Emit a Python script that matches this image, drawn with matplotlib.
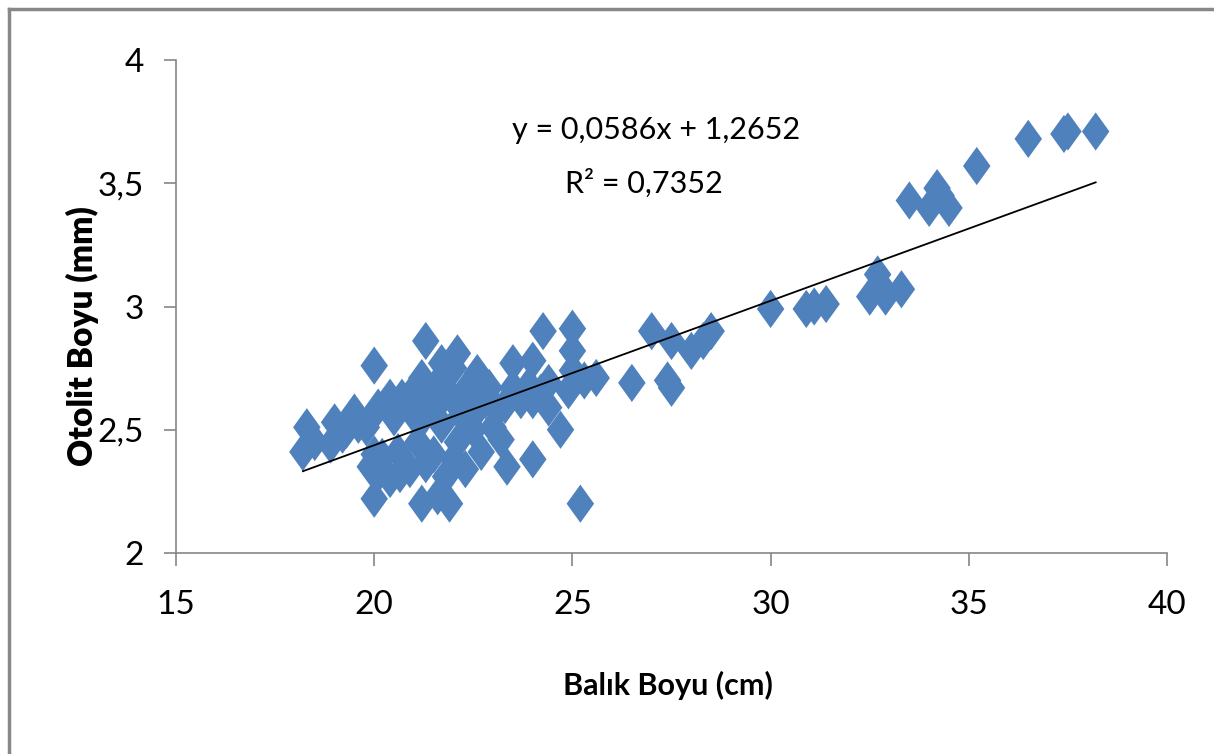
import numpy as np
import matplotlib
matplotlib.use("Agg")
import matplotlib.pyplot as plt
from matplotlib.path import Path
from matplotlib.lines import Line2D

# Balik boyu (cm) / otolit boyu (mm)
balik_boyu = [18.2, 18.3, 18.5, 18.9, 19.0, 19.2, 19.5, 19.6, 19.8, 19.9,
              20.0, 20.0, 20.0, 20.1, 20.1, 20.2, 20.4, 20.4, 20.6, 20.65,
              20.7, 20.9, 20.9, 21.0, 21.1, 21.2, 21.2, 21.2, 21.3, 21.4,
              21.5, 21.6, 21.6, 21.7, 21.7, 21.8, 21.9, 22.0, 22.0, 22.1,
              22.1, 22.2, 22.3, 22.3, 22.5, 22.6, 22.7, 22.9, 23.0, 23.1,
              23.2, 23.35, 23.5, 23.5, 23.7, 23.9, 24.0, 24.0, 24.0, 24.2,
              24.26, 24.4, 24.4, 24.7, 24.9, 25.0, 25.0, 25.0, 25.2, 25.3,
              25.6, 26.5, 27.0, 27.4, 27.5, 27.5, 28.0, 28.3, 28.5, 30.0,
              30.9, 31.1, 31.4, 32.5, 32.7, 32.8, 32.9, 33.3, 33.5, 34.0,
              34.2, 34.3, 34.5, 35.2, 36.5, 37.4, 37.5, 38.2,
              19.3, 20.5, 21.0, 21.5, 21.8, 22.0, 22.5, 22.8, 23.3, 21.3]
otolit_boyu = [2.41, 2.51, 2.45, 2.44, 2.53, 2.48, 2.57, 2.52, 2.51, 2.35,
               2.76, 2.22, 2.40, 2.59, 2.32, 2.39, 2.63, 2.30, 2.41, 2.32,
               2.63, 2.63, 2.34, 2.56, 2.45, 2.54, 2.71, 2.20, 2.86, 2.62,
               2.40, 2.69, 2.23, 2.77, 2.52, 2.31, 2.20, 2.62, 2.75, 2.45,
               2.81, 2.56, 2.66, 2.34, 2.50, 2.73, 2.41, 2.67, 2.51, 2.58,
               2.46, 2.35, 2.77, 2.67, 2.62, 2.68, 2.78, 2.62, 2.38, 2.65,
               2.90, 2.69, 2.59, 2.50, 2.66, 2.91, 2.82, 2.74, 2.20, 2.70,
               2.71, 2.69, 2.90, 2.70, 2.86, 2.67, 2.82, 2.86, 2.90, 2.99,
               2.99, 3.00, 3.01, 3.04, 3.13, 3.08, 3.04, 3.07, 3.43, 3.40,
               3.48, 3.45, 3.40, 3.57, 3.68, 3.70, 3.71, 3.71,
               2.50, 2.55, 2.66, 2.58, 2.65, 2.38, 2.56, 2.62, 2.60, 2.36]

# trendline as printed on the chart
egim = 0.0586
kesisim = 1.2652

x_ticks = [15, 20, 25, 30, 35, 40]
y_ticks = [2, 2.5, 3, 3.5, 4]

plt.rcParams["font.family"] = ["Lato", "DejaVu Sans"]

fig = plt.figure(figsize=(12.14, 7.54), dpi=100)
ax = fig.add_axes([0.145, 0.2666, 0.8163, 0.6538])

# tall diamond like the Excel marker
diamond = Path([(0, 1), (0.72, 0), (0, -1), (-0.72, 0), (0, 1)],
               [Path.MOVETO, Path.LINETO, Path.LINETO, Path.LINETO, Path.CLOSEPOLY])
ax.scatter(balik_boyu, otolit_boyu, marker=diamond, s=27.5 ** 2,
           color="#4F81BD", edgecolors="none", zorder=2)

xs = np.array([min(balik_boyu), max(balik_boyu)])
ax.plot(xs, egim * xs + kesisim, color="black", lw=1.3, zorder=3)

ax.text(27.1, 3.716, "y = 0,0586x + 1,2652", fontsize=22, ha="center", va="center")
ax.text(26.8, 3.50, "R² = 0,7352", fontsize=22, ha="center", va="center")

ax.set_xlim(15, 40)
ax.set_ylim(2, 4)
ax.set_xticks(x_ticks)
ax.set_xticklabels([str(t) for t in x_ticks])
ax.set_yticks(y_ticks)
ax.set_yticklabels([str(t).replace(".", ",") for t in y_ticks])
ax.tick_params(labelsize=24, length=9, width=1.2, color="#868686")
ax.tick_params(axis="x", pad=18)
ax.tick_params(axis="y", pad=14)

for side in ["top", "right"]:
    ax.spines[side].set_visible(False)
for side in ["left", "bottom"]:
    ax.spines[side].set_color("#868686")
    ax.spines[side].set_linewidth(1.2)

ax.set_xlabel("Balık Boyu (cm)", fontsize=22, fontweight="bold")
ax.set_ylabel("Otolit Boyu (mm)", fontsize=24, fontweight="heavy")
ax.xaxis.label.set_va("center")
ax.yaxis.label.set_va("center")
ax.xaxis.set_label_coords(0.496, -0.268)
ax.yaxis.set_label_coords(-0.094, 0.44)

# grey outer frame (only top and left edges are visible)
fig.add_artist(Line2D([8.5 / 1214, 8.5 / 1214], [0, 1 - 8.5 / 754],
                      transform=fig.transFigure, color="#888888", lw=2.5))
fig.add_artist(Line2D([8.5 / 1214, 1], [1 - 8.5 / 754, 1 - 8.5 / 754],
                      transform=fig.transFigure, color="#888888", lw=2.5))

fig.savefig("out.png", dpi=100)
